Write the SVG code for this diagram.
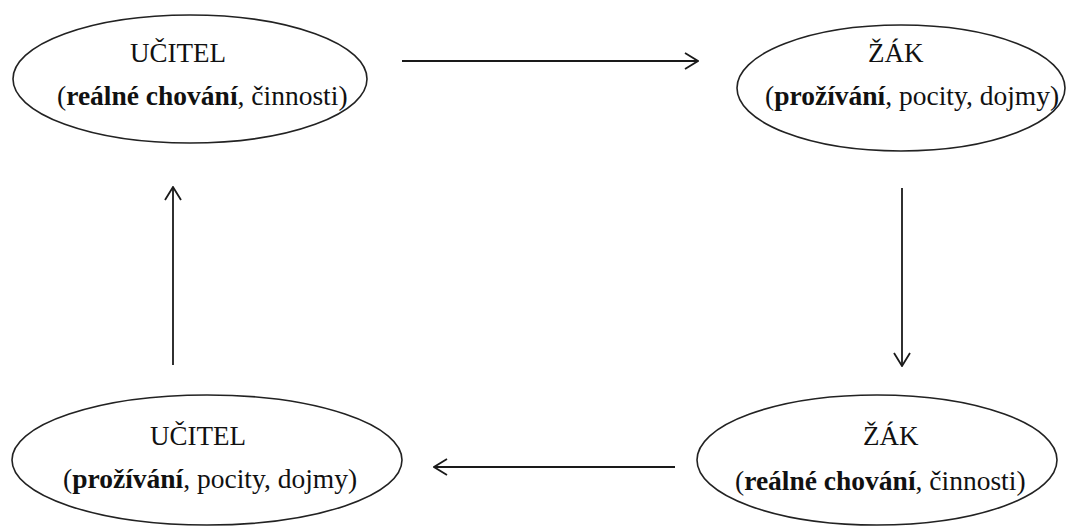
<svg xmlns="http://www.w3.org/2000/svg" width="1068" height="526" viewBox="0 0 1068 526">
  <style>
    .node ellipse { fill: #ffffff; stroke: #222222; stroke-width: 1.6; }
    .title { font-family: "Liberation Serif", "Times New Roman", serif; font-size: 27px; fill: #111111; }
    .sub { font-family: "Liberation Serif", "Times New Roman", serif; font-size: 27.5px; fill: #111111; }
    .sub .b { font-weight: bold; }
    .edge { stroke: #1a1a1a; stroke-width: 1.8; fill: none; marker-end: url(#open); }
  </style>
  <defs>
    <!-- open V arrowhead shared by all connectors -->
    <marker id="open" viewBox="0 0 15 18" refX="14" refY="9" markerWidth="15" markerHeight="18" markerUnits="userSpaceOnUse" orient="auto">
      <path d="M1,1 L14,9 L1,17" fill="none" stroke="#1a1a1a" stroke-width="1.8"/>
    </marker>
  </defs>
  <rect width="1068" height="526" fill="#ffffff"/>

  <g id="ucitel-chovani" class="node">
    <ellipse cx="190" cy="79" rx="177" ry="64"/>
    <text class="title" x="130" y="62">UČITEL</text>
    <text class="sub" x="57" y="105">(<tspan class="b">reálné chování</tspan>, činnosti)</text>
  </g>

  <g id="zak-prozivani" class="node">
    <ellipse cx="901" cy="88" rx="164" ry="63"/>
    <text class="title" x="868" y="62">ŽÁK</text>
    <text class="sub" x="765" y="105">(<tspan class="b">prožívání</tspan>, pocity, dojmy)</text>
  </g>

  <g id="zak-chovani" class="node">
    <ellipse cx="877" cy="460" rx="180" ry="65"/>
    <text class="title" x="863" y="445">ŽÁK</text>
    <text class="sub" x="735" y="490">(<tspan class="b">reálné chování</tspan>, činnosti)</text>
  </g>

  <g id="ucitel-prozivani" class="node">
    <ellipse cx="207" cy="460" rx="195" ry="65"/>
    <text class="title" x="150" y="445">UČITEL</text>
    <text class="sub" x="63" y="488">(<tspan class="b">prožívání</tspan>, pocity, dojmy)</text>
  </g>

  <g id="connectors">
    <line class="edge" x1="402" y1="61" x2="698" y2="61"/>
    <line class="edge" x1="902" y1="188" x2="902" y2="366"/>
    <line class="edge" x1="675" y1="467" x2="434" y2="467"/>
    <line class="edge" x1="173" y1="365" x2="173" y2="187"/>
  </g>
</svg>
